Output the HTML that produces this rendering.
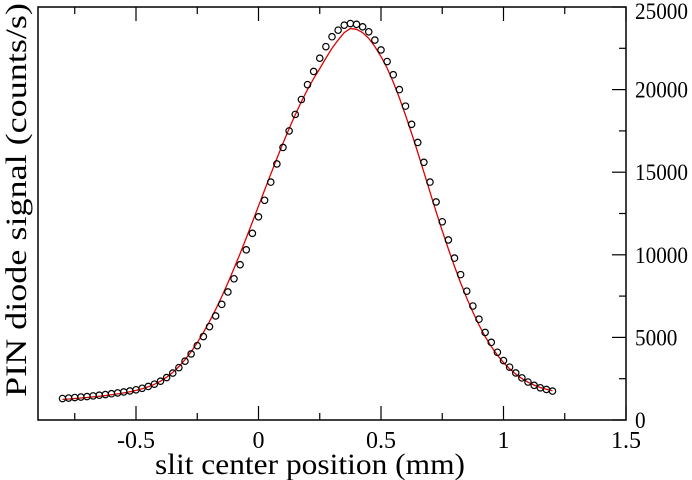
<!DOCTYPE html>
<html><head><meta charset="utf-8">
<style>
html,body{margin:0;padding:0;background:#fff;}
svg{display:block;font-family:"Liberation Serif",serif;}
</style></head>
<body>
<svg id="chart" width="692" height="480" viewBox="0 0 692 480" xmlns="http://www.w3.org/2000/svg">
<g id="axes"></g>
<g id="fit"></g>
<g id="pts"></g>
<text x="310" y="474" font-size="30" text-anchor="middle" textLength="310" lengthAdjust="spacingAndGlyphs">slit center position (mm)</text>
<text transform="translate(26,200) rotate(-90)" font-size="30" text-anchor="middle" textLength="394" lengthAdjust="spacingAndGlyphs">PIN diode signal (counts/s)</text>
</svg>
<script>
const xStart = -0.8, xStep = 0.025;
const measured = [1300,1330,1360,1390,1420,1460,1500,1540,1590,1640,1700,1760,1830,1920,2030,2170,2350,2570,2840,3170,3560,4000,4500,5050,5650,6300,7000,7750,8550,9400,10300,11300,12300,13300,14400,15500,16500,17500,18500,19400,20300,21100,21900,22600,23200,23600,23900,24000,23950,23800,23500,23000,22400,21700,20900,20000,19000,17900,16800,15600,14400,13200,12000,10900,9800,8800,7800,6900,6100,5300,4700,4100,3600,3200,2850,2550,2300,2100,1950,1850,1750];
const fitted = [1250,1270,1300,1330,1360,1400,1440,1480,1530,1580,1640,1710,1790,1890,2010,2160,2350,2590,2880,3230,3650,4130,4680,5290,5960,6690,7470,8300,9170,10080,11020,11980,12950,13920,14880,15830,16750,17640,18480,19270,20000,20670,21270,21900,22500,23000,23450,23700,23650,23450,23100,22600,22000,21300,20450,19500,18450,17350,16200,15000,13800,12600,11450,10350,9300,8300,7380,6530,5750,5050,4450,3930,3480,3100,2780,2510,2290,2110,1970,1860,1770];
const xTicks = [-0.5,0,0.5,1,1.5];
const xTickLabels = ["-0.5","0","0.5","1","1.5"];
const xMinor = [-0.75,-0.25,0.25,0.75,1.25];
const yTicks = [0,5000,10000,15000,20000,25000];
const yTickLabels = ["0","5000","10000","15000","20000","25000"];
const yMinor = [2500,7500,12500,17500,22500];

const L=38,R=626,T=7,B=420,xMin=-0.9,xMax=1.5,yMin=0,yMax=25000;
const sx=v=>L+(v-xMin)/(xMax-xMin)*(R-L);
const sy=v=>B-(v-yMin)/(yMax-yMin)*(B-T);
const NS="http://www.w3.org/2000/svg";
function mk(tag,parent){const e=document.createElementNS(NS,tag);parent.appendChild(e);return e;}
const ax=document.getElementById('axes');
const frame=mk('rect',ax);


frame.setAttribute('x',L);frame.setAttribute('y',T);frame.setAttribute('width',R-L);frame.setAttribute('height',B-T);
frame.setAttribute('fill','none');frame.setAttribute('stroke','#000');frame.setAttribute('stroke-width','1.5');
function tick(x1,y1,x2,y2,name){const l=mk('line',ax);


l.setAttribute('x1',x1);l.setAttribute('y1',y1);l.setAttribute('x2',x2);l.setAttribute('y2',y2);l.setAttribute('stroke','#000');l.setAttribute('stroke-width','1.2');}
xTicks.forEach((v,i)=>{const x=sx(v);tick(x,B,x,B-14,'x-major-tick');tick(x,T,x,T+14,'x-major-tick-top');
const t=mk('text',ax);


t.setAttribute('x',x);t.setAttribute('y',B+28);t.setAttribute('font-size','24');t.setAttribute('text-anchor','middle');t.textContent=xTickLabels[i];});
xMinor.forEach(v=>{const x=sx(v);tick(x,B,x,B-7,'x-minor-tick');tick(x,T,x,T+7,'x-minor-tick-top');});
yTicks.forEach((v,i)=>{const y=sy(v);tick(R,y,R-14,y,'y-major-tick');
const t=mk('text',ax);


t.setAttribute('x',R+9);t.setAttribute('y',y+(i===yTicks.length-1?12:8));t.setAttribute('font-size','23');
t.setAttribute('textLength',String(10.6*yTickLabels[i].length));t.setAttribute('lengthAdjust','spacingAndGlyphs');
t.textContent=yTickLabels[i];});
yMinor.forEach(v=>{const y=sy(v);tick(R,y,R-7,y,'y-minor-tick');});
const fg=document.getElementById('fit');
const p=mk('path',fg);


p.setAttribute('d',fitted.map((v,i)=>(i?'L':'M')+sx(xStart+i*xStep).toFixed(2)+','+sy(v).toFixed(2)).join(''));
p.setAttribute('fill','none');p.setAttribute('stroke','#e00000');p.setAttribute('stroke-width','1.3');
const pg=document.getElementById('pts');
measured.forEach((v,i)=>{const c=mk('circle',pg);


c.setAttribute('cx',sx(xStart+i*xStep));c.setAttribute('cy',sy(v));c.setAttribute('r','3.2');
c.setAttribute('fill','none');c.setAttribute('stroke','#000');c.setAttribute('stroke-width','1.2');});
</script>
</body></html>
